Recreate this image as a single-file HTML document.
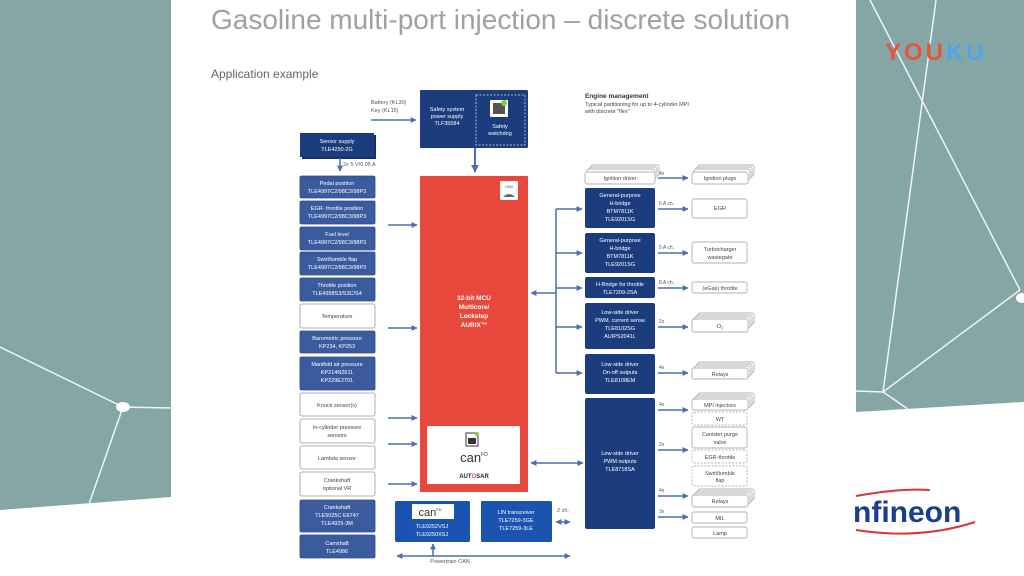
<!DOCTYPE html>
<html><head><meta charset="utf-8"><style>
html,body{margin:0;padding:0;background:#fff;width:1024px;height:576px;overflow:hidden}
svg{display:block;font-family:"Liberation Sans",sans-serif}
</style></head><body>
<svg width="1024" height="576" viewBox="0 0 1024 576" xmlns="http://www.w3.org/2000/svg">
<defs>
<marker id="a" viewBox="0 0 10 10" refX="9" refY="5" markerWidth="4" markerHeight="4" orient="auto-start-reverse"><path d="M0,0L10,5L0,10z" fill="#4a6fb0"/></marker>
</defs>
<rect width="1024" height="576" fill="#fff"/>
<polygon points="0,0 171,0 171,497 0,510" fill="#84a6a5"/>
<g stroke="#eef4f4" stroke-width="1.5" fill="none">
<line x1="0" y1="347" x2="123" y2="407"/><line x1="123" y1="407" x2="171" y2="408"/><line x1="123" y1="407" x2="89" y2="504"/>
</g>
<ellipse cx="123" cy="407" rx="7" ry="5" fill="#fff"/>
<polygon points="856,0 1024,0 1024,402 856,412" fill="#84a6a5"/>
<g stroke="#eef4f4" stroke-width="1.5" fill="none">
<line x1="870" y1="0" x2="1020" y2="290"/><line x1="936" y1="0" x2="883" y2="392"/><line x1="1020" y1="290" x2="883" y2="392"/><line x1="856" y1="391" x2="883" y2="392"/><line x1="883" y1="392" x2="908" y2="409"/>
</g>
<ellipse cx="1022" cy="298" rx="6" ry="5" fill="#fff"/>
<text x="885" y="60" font-size="24" font-weight="bold" fill="#e8543a" letter-spacing="3">YOU<tspan fill="#4aa8e8">KU</tspan></text>
<path d="M856,496 Q900,488 930,490" stroke="#d2383c" stroke-width="2" fill="none"/>
<path d="M856,530 Q920,540 975,522" stroke="#d2383c" stroke-width="2" fill="none"/>
<text x="853" y="522" font-size="30" font-weight="bold" fill="#1a3e8c">nfineon</text>

<text x="211" y="29" font-size="28" fill="#a0a0a0">Gasoline multi-port injection – discrete solution</text>
<text x="211" y="78" font-size="12" fill="#666">Application example</text>

<g font-size="5.5" text-anchor="middle">
<text x="371" y="104" fill="#555" text-anchor="start">Battery (KL30)</text>
<text x="371" y="112" fill="#555" text-anchor="start">Key (KL15)</text>
<line x1="371" y1="120" x2="416" y2="120" stroke="#4a6fb0" stroke-width="1.5" marker-end="url(#a)"/>
<rect x="420" y="90" width="108" height="58" fill="#1b3d7e" rx="1"/>
<rect x="476" y="95" width="49" height="50" fill="none" stroke="#cfd8ea" stroke-dasharray="2,1.5" stroke-width="0.8"/>
<rect x="490" y="100" width="18" height="17" fill="#fff" rx="1"/><rect x="493" y="103" width="12" height="11" fill="#555"/><circle cx="504" cy="103" r="3" fill="#8c3"/>
<text x="447" y="111" fill="#fff">Safety system</text><text x="447" y="118" fill="#fff">power supply</text><text x="447" y="125" fill="#fff">TLF35584</text>
<text x="500" y="128" fill="#fff">Safety</text><text x="500" y="135" fill="#fff">watchdog</text>
<line x1="475" y1="148" x2="475" y2="172" stroke="#4a6fb0" stroke-width="2" marker-end="url(#a)"/>
<rect x="420" y="176" width="108" height="316" fill="#e8483c" rx="1"/>
<rect x="500" y="181" width="18" height="19" fill="#fff" rx="1"/><text x="509" y="188" font-size="3.5" fill="#555">HSM</text><path d="M503,197 q6,-6 12,0z" fill="#666"/>
<g fill="#fff" font-weight="bold" font-size="6.5"><text x="474" y="300">32-bit MCU</text><text x="474" y="309">Multicore/</text><text x="474" y="318">Lockstep</text><text x="474" y="327">AURIX™</text></g>
<rect x="427" y="426" width="93" height="58" fill="#fff" rx="1"/>
<rect x="466" y="433" width="12" height="13" fill="none" stroke="#333"/><rect x="468" y="438" width="8" height="6" fill="#333"/><circle cx="477" cy="434" r="2" fill="#8c3"/>
<text x="474" y="462" font-size="13" fill="#333">can<tspan font-size="5" dy="-6">FD</tspan></text>
<text x="474" y="478" font-size="6" font-weight="bold" fill="#222">AUT<tspan fill="#e8483c">O</tspan>SAR</text>

<rect x="302" y="135" width="74" height="24" fill="#15306a"/>
<rect x="300" y="133" width="74" height="24" fill="#1b3d7e"/>
<text x="337" y="143" fill="#fff">Sensor supply</text><text x="337" y="151" fill="#fff">TLE4250-2G</text>
<line x1="340" y1="158" x2="340" y2="171" stroke="#4a6fb0" stroke-width="1.5" marker-end="url(#a)"/>
<text x="343" y="166" fill="#555" text-anchor="start">2x 5 V/0.05 A</text>
</g>
<g font-size="5.5" text-anchor="middle" stroke-width="0.8">
<g fill="#3a5c9e" stroke="#2c4a88">
<rect x="300" y="176" width="75" height="22" rx="1.5"/><rect x="300" y="201" width="75" height="23" rx="1.5"/><rect x="300" y="227" width="75" height="23" rx="1.5"/><rect x="300" y="252" width="75" height="23" rx="1.5"/><rect x="300" y="278" width="75" height="23" rx="1.5"/>
<rect x="300" y="331" width="75" height="22" rx="1.5"/><rect x="300" y="357" width="75" height="33" rx="1.5"/>
<rect x="300" y="500" width="75" height="32" rx="1.5"/><rect x="300" y="535" width="75" height="23" rx="1.5"/>
</g>
<g fill="#fff" stroke="#999">
<rect x="300" y="304" width="75" height="24" rx="2"/><rect x="300" y="393" width="75" height="23" rx="2"/><rect x="300" y="419" width="75" height="24" rx="2"/><rect x="300" y="446" width="75" height="23" rx="2"/><rect x="300" y="472" width="75" height="24" rx="2"/>
</g>
<g fill="#fff">
<text x="337" y="185">Pedal position</text><text x="337" y="193">TLE4997C2/98C3/98P3</text>
<text x="337" y="210">EGR- throttle position</text><text x="337" y="218">TLE4997C2/98C3/98P3</text>
<text x="337" y="236">Fuel level</text><text x="337" y="244">TLE4997C2/98C3/98P3</text>
<text x="337" y="261">Swirl/tumble flap</text><text x="337" y="269">TLE4997C2/98C3/98P3</text>
<text x="337" y="287">Throttle position</text><text x="337" y="295">TLE4998S3/S3C/S4</text>
<text x="337" y="340">Barometric pressure</text><text x="337" y="348">KP234, KP253</text>
<text x="337" y="366">Manifold air pressure</text><text x="337" y="374">KP214N2611</text><text x="337" y="382">KP229E2701</text>
<text x="337" y="509">Crankshaft</text><text x="337" y="517">TLE5025C E6747</text><text x="337" y="525">TLE4925-3M</text>
<text x="337" y="545">Camshaft</text><text x="337" y="553">TLE4986</text>
</g>
<g fill="#444">
<text x="337" y="318">Temperature</text><text x="337" y="407">Knock sensor(s)</text>
<text x="337" y="429">In-cylinder pressure</text><text x="337" y="437">sensors</text>
<text x="337" y="460">Lambda sensor</text>
<text x="337" y="482">Crankshaft</text><text x="337" y="490">optional VR</text>
</g>
</g>
<g stroke="#4a6fb0" stroke-width="1.5" marker-end="url(#a)">
<line x1="388" y1="225" x2="417" y2="225"/><line x1="388" y1="328" x2="417" y2="328"/><line x1="388" y1="418" x2="417" y2="418"/><line x1="388" y1="444" x2="417" y2="444"/><line x1="388" y1="484" x2="417" y2="484"/>
</g>

<g font-size="5.5" text-anchor="middle">
<rect x="395" y="501" width="75" height="41" fill="#1a54b0" rx="1.5"/>
<rect x="412" y="504" width="42" height="15" fill="#fff"/>
<text x="430" y="516" font-size="11" fill="#333">can<tspan font-size="4" dy="-5">FD</tspan></text>
<text x="432" y="528" fill="#fff">TLE9252VSJ</text><text x="432" y="536" fill="#fff">TLE9250XSJ</text>
<rect x="481" y="501" width="71" height="41" fill="#1a54b0" rx="1.5"/>
<text x="516" y="514" fill="#fff">LIN transceiver</text><text x="516" y="522" fill="#fff">TLE7259-3GE</text><text x="516" y="530" fill="#fff">TLE7259-3LE</text>
<text x="563" y="512" fill="#555">2 ch.</text>
<text x="450" y="563" fill="#555">Powertrain CAN</text>
</g>
<g stroke="#4a6fb0" stroke-width="1.5">
<line x1="556" y1="522" x2="570" y2="522" marker-start="url(#a)" marker-end="url(#a)"/>
<line x1="397" y1="556" x2="570" y2="556" marker-start="url(#a)" marker-end="url(#a)"/>
<line x1="433" y1="556" x2="433" y2="544" marker-end="url(#a)"/>
</g>

<text x="585" y="98" font-size="6.5" font-weight="bold" fill="#333">Engine management</text>
<text x="585" y="106" font-size="5.5" fill="#444">Typical partitioning for up to 4-cylinder MPI</text>
<text x="585" y="113" font-size="5.5" fill="#444">with discrete "flex"</text>

<g stroke="#4a6fb0" stroke-width="1.5" fill="none">
<line x1="556" y1="209" x2="556" y2="373"/>
<line x1="556" y1="209" x2="582" y2="209" marker-end="url(#a)"/><line x1="556" y1="253" x2="582" y2="253" marker-end="url(#a)"/><line x1="556" y1="288" x2="582" y2="288" marker-end="url(#a)"/><line x1="556" y1="327" x2="582" y2="327" marker-end="url(#a)"/><line x1="556" y1="373" x2="582" y2="373" marker-end="url(#a)"/>
<line x1="556" y1="293" x2="531" y2="293" marker-end="url(#a)"/>
<line x1="531" y1="463" x2="583" y2="463" marker-start="url(#a)" marker-end="url(#a)"/>
</g>

<g font-size="5.5" text-anchor="middle">
<g fill="#fff" stroke="#999" stroke-width="0.7">
<rect x="591" y="165" width="68" height="11" rx="2"/><rect x="589" y="167" width="68" height="11" rx="2"/><rect x="587" y="169" width="68" height="11" rx="2"/><rect x="585" y="172" width="70" height="12" rx="2"/>
</g>
<text x="620" y="180" fill="#444">Ignition driver</text>
<g fill="#1b3d7e">
<rect x="585" y="188" width="70" height="40" rx="2"/><rect x="585" y="233" width="70" height="40" rx="2"/><rect x="585" y="277" width="70" height="21" rx="2"/><rect x="585" y="303" width="70" height="46" rx="2"/><rect x="585" y="354" width="70" height="40" rx="2"/><rect x="585" y="398" width="70" height="131" rx="2"/>
</g>
<g fill="#fff">
<text x="620" y="197">General-purpose</text><text x="620" y="205">H-bridge</text><text x="620" y="213">BTM7811K</text><text x="620" y="221">TLE9201SG</text>
<text x="620" y="242">General-purpose</text><text x="620" y="250">H-bridge</text><text x="620" y="258">BTM7811K</text><text x="620" y="266">TLE9201SG</text>
<text x="620" y="286">H-Bridge for throttle</text><text x="620" y="294">TLE7209-2SA</text>
<text x="620" y="314">Low-side driver</text><text x="620" y="322">PWM, current sense</text><text x="620" y="330">TLE8102SG</text><text x="620" y="338">AUIPS2041L</text>
<text x="620" y="366">Low-side driver</text><text x="620" y="374">On-off outputs</text><text x="620" y="382">TLE8108EM</text>
<text x="620" y="455">Low-side driver</text><text x="620" y="463">PWM outputs</text><text x="620" y="471">TLE8718SA</text>
</g>

<g stroke="#4a6fb0" stroke-width="1.5" marker-end="url(#a)">
<line x1="658" y1="178" x2="688" y2="178"/><line x1="658" y1="209" x2="688" y2="209"/><line x1="658" y1="253" x2="688" y2="253"/><line x1="658" y1="288" x2="688" y2="288"/><line x1="658" y1="327" x2="688" y2="327"/><line x1="658" y1="373" x2="688" y2="373"/><line x1="658" y1="410" x2="688" y2="410"/><line x1="658" y1="450" x2="688" y2="450"/><line x1="658" y1="496" x2="688" y2="496"/><line x1="658" y1="517" x2="688" y2="517"/>
</g>
<g fill="#555" text-anchor="start" font-size="5">
<text x="659" y="175">4x</text><text x="659" y="205">6 A ch.</text><text x="659" y="249">5 A ch.</text><text x="659" y="284">8 A ch.</text><text x="659" y="323">2x</text><text x="659" y="369">4x</text><text x="659" y="406">4x</text><text x="659" y="446">2x</text><text x="659" y="492">4x</text><text x="659" y="513">3x</text>
</g>

<g fill="#fff" stroke="#999" stroke-width="0.7">
<rect x="698" y="165" width="56" height="11" rx="2"/><rect x="696" y="167" width="56" height="11" rx="2"/><rect x="694" y="169" width="56" height="11" rx="2"/><rect x="692" y="172" width="56" height="12" rx="2"/>
<rect x="692" y="199" width="55" height="19" rx="2"/>
<rect x="692" y="242" width="55" height="21" rx="2"/>
<rect x="692" y="282" width="55" height="11" rx="2"/>
<rect x="698" y="313" width="56" height="11" rx="2"/><rect x="696" y="315" width="56" height="11" rx="2"/><rect x="694" y="317" width="56" height="11" rx="2"/><rect x="692" y="319" width="56" height="13" rx="2"/>
<rect x="698" y="362" width="56" height="11" rx="2"/><rect x="696" y="364" width="56" height="11" rx="2"/><rect x="694" y="366" width="56" height="11" rx="2"/><rect x="692" y="368" width="56" height="11" rx="2"/>
<rect x="698" y="393" width="56" height="11" rx="2"/><rect x="696" y="395" width="56" height="11" rx="2"/><rect x="694" y="397" width="56" height="11" rx="2"/><rect x="692" y="399" width="56" height="11" rx="2"/>
<rect x="692" y="427" width="55" height="21" rx="2"/>
<rect x="698" y="489" width="56" height="11" rx="2"/><rect x="696" y="491" width="56" height="11" rx="2"/><rect x="694" y="493" width="56" height="11" rx="2"/><rect x="692" y="495" width="56" height="12" rx="2"/>
<rect x="692" y="512" width="55" height="11" rx="2"/><rect x="692" y="527" width="55" height="11" rx="2"/>
</g>
<g fill="#fff" stroke="#999" stroke-width="0.7" stroke-dasharray="2,1.5">
<rect x="692" y="412" width="55" height="13" rx="2"/><rect x="692" y="450" width="55" height="13" rx="2"/><rect x="692" y="466" width="55" height="20" rx="2"/>
</g>
<g fill="#444">
<text x="720" y="180">Ignition plugs</text><text x="720" y="210">EGR</text>
<text x="720" y="251">Turbocharger</text><text x="720" y="259">wastegate</text>
<text x="720" y="290">(eGas) throttle</text><text x="720" y="328">O<tspan font-size="3.5" dy="1">2</tspan></text>
<text x="720" y="376">Relays</text><text x="720" y="407">MPI injectors</text><text x="720" y="421">WT</text>
<text x="720" y="436">Canister purge</text><text x="720" y="444">valve</text>
<text x="720" y="459">EGR-throttle</text><text x="720" y="475">Swirl/tumble</text><text x="720" y="482">flap</text>
<text x="720" y="503">Relays</text><text x="720" y="520">MIL</text><text x="720" y="535">Lamp</text>
</g>
</g>
</svg>
</body></html>
